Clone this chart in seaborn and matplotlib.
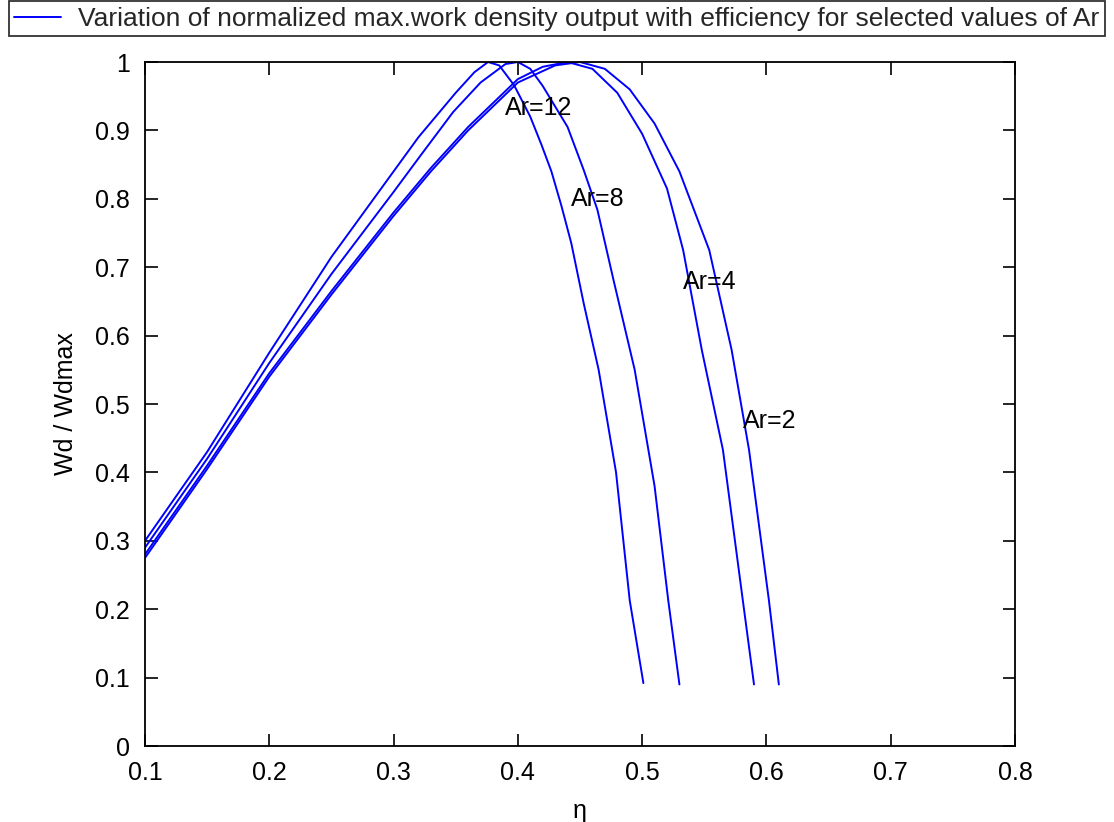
import matplotlib
matplotlib.use("Agg")
import matplotlib.pyplot as plt
import seaborn as sns
import pandas as pd
from matplotlib.lines import Line2D

# ---- data ----
ar_labels = ["Ar=12", "Ar=8", "Ar=4", "Ar=2"]

eta_ar12 = [0.10, 0.15, 0.20, 0.25, 0.30, 0.32, 0.35, 0.365, 0.376, 0.385, 0.397, 0.41, 0.419, 0.427, 0.435, 0.443, 0.453, 0.465, 0.479, 0.490, 0.501]
wd_ar12  = [0.30, 0.43, 0.575, 0.715, 0.84, 0.89, 0.955, 0.985, 1.0, 0.995, 0.966, 0.92, 0.879, 0.84, 0.79, 0.735, 0.647, 0.55, 0.40, 0.213, 0.092]

eta_ar8 = [0.10, 0.15, 0.20, 0.25, 0.30, 0.322, 0.348, 0.37, 0.39, 0.40, 0.41, 0.42, 0.44, 0.453, 0.464, 0.477, 0.494, 0.51, 0.521, 0.530]
wd_ar8  = [0.29, 0.42, 0.56, 0.69, 0.81, 0.864, 0.927, 0.97, 0.997, 1.0, 0.99, 0.965, 0.905, 0.842, 0.784, 0.681, 0.55, 0.38, 0.213, 0.09]

eta_ar4 = [0.10, 0.15, 0.20, 0.25, 0.30, 0.33, 0.36, 0.40, 0.42, 0.44, 0.46, 0.48, 0.50, 0.52, 0.533, 0.548, 0.565, 0.581, 0.590]
wd_ar4  = [0.28, 0.41, 0.545, 0.665, 0.78, 0.845, 0.905, 0.975, 0.993, 1.0, 0.99, 0.955, 0.895, 0.815, 0.725, 0.579, 0.433, 0.213, 0.09]

eta_ar2 = [0.10, 0.15, 0.20, 0.25, 0.30, 0.33, 0.36, 0.40, 0.43, 0.45, 0.47, 0.49, 0.51, 0.53, 0.554, 0.572, 0.586, 0.602, 0.610]
wd_ar2  = [0.275, 0.405, 0.54, 0.66, 0.775, 0.84, 0.90, 0.97, 0.995, 1.0, 0.99, 0.96, 0.91, 0.84, 0.725, 0.579, 0.433, 0.213, 0.09]

label_x = [0.39, 0.443, 0.533, 0.581]
label_y = [0.933, 0.80, 0.678, 0.475]

legend_text = "Variation of normalized max.work density output with efficiency for selected values of Ar"
x_ticks = [0.1, 0.2, 0.3, 0.4, 0.5, 0.6, 0.7, 0.8]
y_ticks = [0, 0.1, 0.2, 0.3, 0.4, 0.5, 0.6, 0.7, 0.8, 0.9, 1.0]
y_ticklabels = ["0", "0.1", "0.2", "0.3", "0.4", "0.5", "0.6", "0.7", "0.8", "0.9", "1"]

frames = []
for lab, xs, ys in zip(ar_labels, [eta_ar12, eta_ar8, eta_ar4, eta_ar2], [wd_ar12, wd_ar8, wd_ar4, wd_ar2]):
    frames.append(pd.DataFrame({"eta": xs, "wd": ys, "Ar": lab}))
df = pd.concat(frames, ignore_index=True)

sns.set_theme(style="white")
plt.rcParams["font.family"] = ["Liberation Sans", "DejaVu Sans"]

FS = 18

fig = plt.figure(figsize=(11.14, 8.22), dpi=100)
ax = fig.add_axes([145 / 1114, 1 - 746 / 822, (1015 - 145) / 1114, (746 - 62) / 822])

blue = "#0000ff"
sns.lineplot(data=df, x="eta", y="wd", hue="Ar", palette=[blue] * 4, sort=False,
             estimator=None, linewidth=1.4, legend=False, ax=ax)

for lab, lx, ly in zip(ar_labels, label_x, label_y):
    ax.text(lx, ly, lab, fontsize=FS, ha="left", va="center", color="black")

ax.set_xlim(0.1, 0.8)
ax.set_ylim(0, 1)
ax.set_xticks(x_ticks)
ax.set_xticklabels([f"{t:g}" for t in x_ticks])
ax.set_yticks(y_ticks)
ax.set_yticklabels(y_ticklabels)
ax.tick_params(axis="both", direction="in", length=9, width=1.2, colors="black",
               labelsize=FS, top=True, right=True, bottom=True, left=True)
ax.tick_params(axis="x", pad=11)
ax.tick_params(axis="y", pad=11)
for s in ax.spines.values():
    s.set_color("black")
    s.set_linewidth(1.3)
ax.set_xlabel("η", fontsize=FS, color="black", labelpad=10)
ax.set_ylabel("Wd / Wdmax", fontsize=FS, color="black", labelpad=12)
ax.grid(False)

handle = Line2D([], [], color=blue, linewidth=1.4)
leg = fig.legend([handle], [legend_text], loc="upper left", bbox_to_anchor=(8.5 / 1114, 1 - 1.5 / 822),
                 fontsize=19, frameon=True, fancybox=False, edgecolor="black",
                 handlelength=1.8, handletextpad=0.65, borderpad=0.2, borderaxespad=0)
leg.get_frame().set_linewidth(1.3)

fig.savefig("out.png", dpi=100)
